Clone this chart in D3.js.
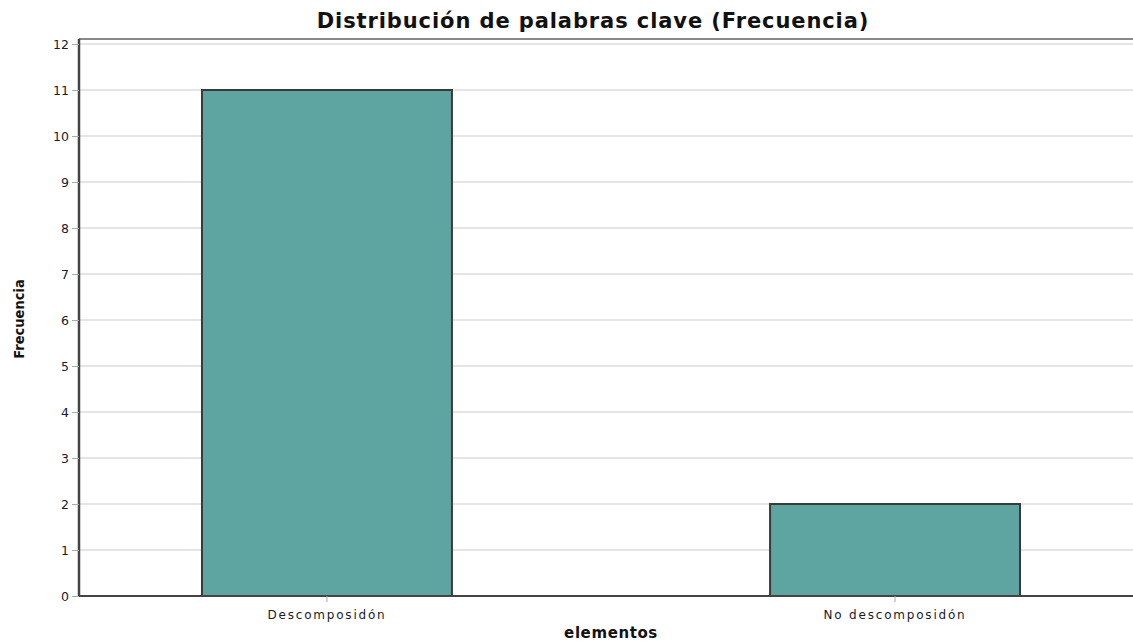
<!DOCTYPE html>
<html lang="es">
<head>
<meta charset="UTF-8">
<title>Distribución de palabras clave</title>
<style>
  body { margin: 0; background: #fff; }
  svg { display: block; }
  .tick text { font-family: "DejaVu Sans", Verdana, sans-serif; fill: #1a1a2a; }
</style>
</head>
<body>
<div id="chart"></div>
<script src="https://d3js.org/d3.v7.min.js"></script>
<script>
// data
const categories = ["Descomposidón", "No descomposidón"];
const frecuencia = [11, 2];
const yTicks = [0, 1, 2, 3, 4, 5, 6, 7, 8, 9, 10, 11, 12];

const W = 1133, H = 641;
const plot = { left: 79, top: 39, right: 1143, bottom: 596 };

const svg = d3.select("#chart").append("svg")
    .attr("width", W).attr("height", H);

const x = d3.scaleBand()
    .domain(categories)
    .range([plot.left, plot.right])
    .paddingInner(0.56)
    .paddingOuter(0.2165);

const y = d3.scaleLinear()
    .domain([0, 12])
    .range([plot.bottom, 44]);

// grid lines
svg.append("g")
  .selectAll("line")
  .data(yTicks.filter(d => d > 0))
  .join("line")
    .attr("x1", plot.left).attr("x2", W)
    .attr("y1", d => y(d)).attr("y2", d => y(d))
    .attr("stroke", "#dcdcdc").attr("stroke-width", 1.5);

// top frame
svg.append("line")
    .attr("x1", plot.left).attr("x2", W)
    .attr("y1", plot.top).attr("y2", plot.top)
    .attr("stroke", "#888").attr("stroke-width", 2);

// bars
svg.append("g")
  .selectAll("rect")
  .data(categories)
  .join("rect")
    .attr("x", d => x(d))
    .attr("y", (d, i) => y(frecuencia[i]))
    .attr("width", x.bandwidth())
    .attr("height", (d, i) => y(0) - y(frecuencia[i]))
    .attr("fill", "#5ea4a0")
    .attr("stroke", "#3a3a3a")
    .attr("stroke-width", 2);

// y axis
const yAxis = svg.append("g")
    .attr("transform", `translate(${plot.left},0)`)
    .call(d3.axisLeft(y).tickValues(yTicks).tickFormat(d3.format("d")).tickSize(7).tickPadding(3));
yAxis.select(".domain").attr("stroke", "#444").attr("stroke-width", 2.5)
    .attr("d", `M0,${plot.top}V${plot.bottom}`);
yAxis.selectAll(".tick line").attr("stroke", "#aaa");
yAxis.selectAll(".tick text").style("font-size", "12.5px");

// x axis
const xAxis = svg.append("g")
    .attr("transform", `translate(0,${plot.bottom})`)
    .call(d3.axisBottom(x).tickSize(6).tickPadding(8));
xAxis.select(".domain").attr("stroke", "#444").attr("stroke-width", 2)
    .attr("d", `M${plot.left},0H${W}`);
xAxis.selectAll(".tick line").attr("stroke", "#aaa");
xAxis.selectAll(".tick text").style("font-size", "12px").style("letter-spacing", "1.8px");

// title
svg.append("text")
    .attr("x", 593).attr("y", 28)
    .attr("text-anchor", "middle")
    .style("font-family", "'DejaVu Sans', Verdana, sans-serif")
    .style("font-weight", "bold")
    .style("font-size", "21px")
    .style("letter-spacing", "0.9px")
    .attr("fill", "#111")
    .text("Distribución de palabras clave (Frecuencia)");

// axis titles
svg.append("text")
    .attr("x", 611).attr("y", 638)
    .attr("text-anchor", "middle")
    .style("font-family", "'DejaVu Sans', Verdana, sans-serif")
    .style("font-weight", "bold")
    .style("font-size", "15px")
    .style("letter-spacing", "0.6px")
    .attr("fill", "#111")
    .text("elementos");

svg.append("text")
    .attr("transform", "translate(24,319) rotate(-90)")
    .attr("text-anchor", "middle")
    .style("font-family", "'DejaVu Sans Condensed', 'Liberation Sans Narrow', sans-serif")
    .style("font-weight", "bold")
    .style("font-size", "14.5px")
    .attr("fill", "#111")
    .text("Frecuencia");
</script>
</body>
</html>
